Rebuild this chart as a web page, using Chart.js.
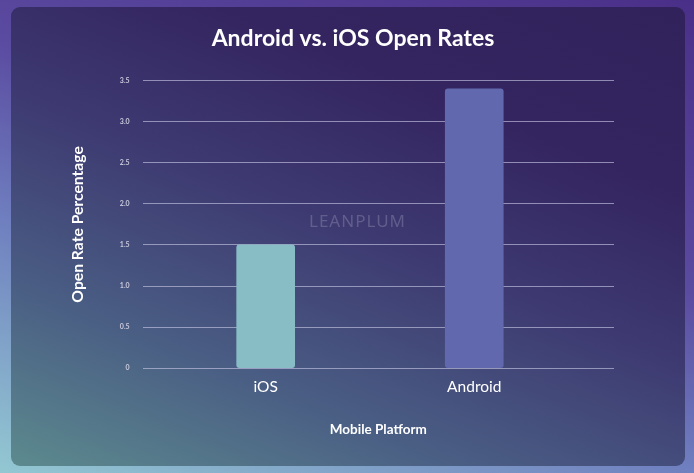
<!DOCTYPE html>
<html>
<head>
<meta charset="utf-8">
<script src="https://cdn.jsdelivr.net/npm/chart.js@4.4.1/dist/chart.umd.min.js"></script>
<style>
  html, body { margin: 0; padding: 0; }
  body {
    width: 694px; height: 473px; overflow: hidden; position: relative;
    background: linear-gradient(20deg, #93c8d2 0%, #6f7fbf 35%, #5a4aa0 60%, #4a2f88 100%);
  }
  #card {
    position: absolute; left: 11px; top: 7px; width: 674px; height: 459px;
    border-radius: 9px; overflow: hidden;
    background: linear-gradient(22deg, #5c8a8e 0%, #4a5e84 25%, #3e3b72 50%, #34245f 75%, #32225c 100%);
  }
  #chart-area { position: absolute; left: 0; top: 0; }
  #mark {
    position: absolute; left: 298px; top: 202px;
    font-family: "Noto Sans", sans-serif; font-size: 17px; letter-spacing: 1px;
    color: rgba(190, 190, 215, 0.28);
  }
</style>
</head>
<body>
<div id="card">
  <canvas id="chart-area" width="674" height="459"></canvas>
  <div id="mark">LEANPLUM</div>
</div>
<script>
var categories = ['iOS', 'Android'];
var openRates = [1.5, 3.4];
var barColors = ['#88bdc6', '#6268ae'];
var yTicks = [0, 0.5, 1, 1.5, 2, 2.5, 3, 3.5];

var points = openRates.map(function (v, i) { return { x: i, y: v }; });

var ctx = document.getElementById('chart-area').getContext('2d');
var config = {
    type: 'bar',
    data: {
        datasets: [{
            data: points,
            backgroundColor: barColors,
            borderRadius: 3,
            borderSkipped: false,
            barThickness: 58
        }]
    },
    options: {
        responsive: false,
        animation: false,
        layout: { padding: { left: 10, right: 0, top: 0, bottom: 24 } },
        plugins: {
            legend: { display: false },
            tooltip: { enabled: false },
            title: {
                display: true,
                text: 'Android vs. iOS Open Rates',
                color: '#ffffff',
                font: { family: 'Lato', size: 23, weight: 'bold' },
                padding: { top: 18, bottom: 28 }
            }
        },
        scales: {
            x: {
                type: 'linear',
                offset: false,
                min: -0.59,
                max: 1.67,
                afterBuildTicks: function (axis) {
                    axis.ticks = categories.map(function (c, i) { return { value: i }; });
                },
                ticks: {
                    color: '#ffffff',
                    font: { family: 'Lato', size: 15.5 },
                    padding: 1,
                    callback: function (v) { return categories[v]; }
                },
                grid: { display: false },
                border: { display: false },
                title: {
                    display: true,
                    text: 'Mobile Platform',
                    color: '#ffffff',
                    font: { family: 'Lato', size: 13.5, weight: 'bold' },
                    padding: { top: 25 }
                }
            },
            y: {
                min: 0,
                max: 3.5,
                afterBuildTicks: function (axis) {
                    axis.ticks = yTicks.map(function (v) { return { value: v }; });
                },
                ticks: {
                    color: '#c9c9dc',
                    font: { family: 'Lato', size: 7, weight: 'bold' },
                    padding: 13,
                    callback: function (v) { return v === 0 ? '0' : v.toFixed(1); }
                },
                grid: {
                    color: 'rgba(195, 195, 225, 0.65)',
                    lineWidth: 1,
                    drawTicks: false
                },
                border: { display: false },
                title: {
                    display: true,
                    text: 'Open Rate Percentage',
                    color: '#ffffff',
                    font: { family: 'Lato', size: 15.7, weight: 'bold' },
                    padding: { top: 48, bottom: 19 }
                }
            },
            // empty right-hand axis that only reserves the blank margin
            yRight: {
                position: 'right',
                display: true,
                ticks: { display: false },
                grid: { display: false },
                border: { display: false },
                afterFit: function (axis) { axis.width = 71; }
            }
        }
    }
};
var chart = new Chart(ctx, config);
</script>
</body>
</html>
